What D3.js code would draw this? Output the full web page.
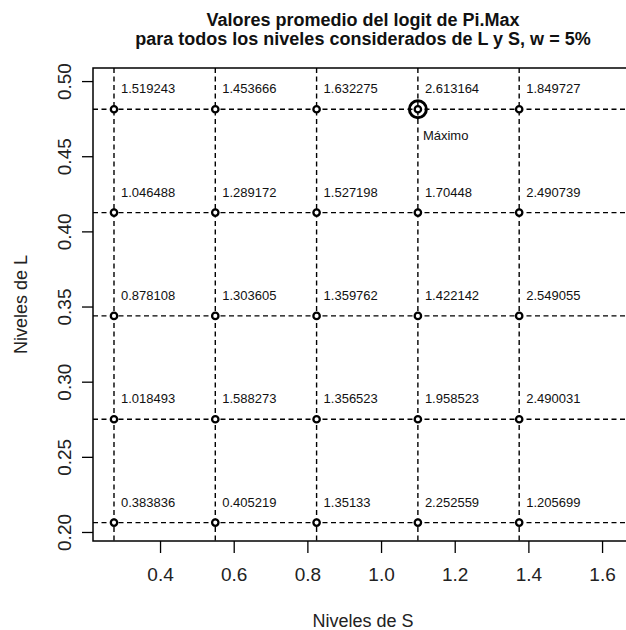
<!DOCTYPE html>
<html>
<head>
<meta charset="utf-8">
<script src="https://cdn.jsdelivr.net/npm/d3@7"></script>
<style>
  html, body { margin: 0; padding: 0; background: #fff; }
  svg { display: block; font-family: "Liberation Sans", Arial, sans-serif; }
</style>
</head>
<body>
<svg id="chart" width="626" height="630"></svg>
<script>
// Levels of S (columns) and L (rows)
const sLevels = [0.275, 0.55, 0.825, 1.1, 1.375];
const lLevels = [0.48125, 0.4125, 0.34375, 0.275, 0.20625];

// Mean logit of Pi.Max per (L, S) pair, one row per L level
const row048 = [1.519243, 1.453666, 1.632275, 2.613164, 1.849727];
const row041 = [1.046488, 1.289172, 1.527198, 1.70448, 2.490739];
const row034 = [0.878108, 1.303605, 1.359762, 1.422142, 2.549055];
const row027 = [1.018493, 1.588273, 1.356523, 1.958523, 2.490031];
const row020 = [0.383836, 0.405219, 1.35133, 2.252559, 1.205699];
const valueRows = [row048, row041, row034, row027, row020];

const xTicks = [0.4, 0.6, 0.8, 1.0, 1.2, 1.4, 1.6];
const yTicks = [0.20, 0.25, 0.30, 0.35, 0.40, 0.45, 0.50];

const titleLines = ["Valores promedio del logit de Pi.Max",
                    "para todos los niveles considerados de L y S, w = 5%"];
const xTitle = "Niveles de S";
const yTitle = "Niveles de L";
const maxLabel = "Máximo";

const svg = d3.select("#chart");
const box = { left: 93, right: 633, top: 68, bottom: 541 };

const x = d3.scaleLinear().domain([0.218, 1.684]).range([box.left, box.right]);
const y = d3.scaleLinear().domain([0.194, 0.5087]).range([box.bottom, box.top]);

// flatten grid into points
const points = [];
lLevels.forEach((l, i) => sLevels.forEach((s, j) => points.push({ s, l, v: valueRows[i][j] })));
const maxPoint = points.reduce((a, b) => (b.v > a.v ? b : a));

const plot = svg.append("g");

// dashed reference lines through each level
const dash = "5,3.5";
plot.selectAll("line.v").data(sLevels).join("line")
  .attr("x1", d => x(d)).attr("x2", d => x(d))
  .attr("y1", box.top).attr("y2", box.bottom)
  .attr("stroke", "#000").attr("stroke-width", 1.4).attr("stroke-dasharray", dash);
plot.selectAll("line.h").data(lLevels).join("line")
  .attr("y1", d => y(d)).attr("y2", d => y(d))
  .attr("x1", box.left).attr("x2", box.right)
  .attr("stroke", "#000").attr("stroke-width", 1.4).attr("stroke-dasharray", dash);

// points
plot.selectAll("circle.pt").data(points).join("circle")
  .attr("cx", d => x(d.s)).attr("cy", d => y(d.l)).attr("r", 3.2)
  .attr("fill", "#fff").attr("stroke", "#000").attr("stroke-width", 2.3);

// value labels
plot.selectAll("text.val").data(points).join("text")
  .attr("x", d => x(d.s) + 7).attr("y", d => y(d.l) - 16)
  .attr("font-size", 13).attr("fill", "#111")
  .text(d => String(d.v));

// highlight the maximum
plot.append("circle")
  .attr("cx", x(maxPoint.s)).attr("cy", y(maxPoint.l)).attr("r", 8.5)
  .attr("fill", "none").attr("stroke", "#000").attr("stroke-width", 3);
plot.append("text")
  .attr("x", x(maxPoint.s) + 5).attr("y", y(maxPoint.l) + 31)
  .attr("font-size", 13).attr("fill", "#111").text(maxLabel);

// frame
svg.append("rect")
  .attr("x", box.left).attr("y", box.top)
  .attr("width", box.right - box.left).attr("height", box.bottom - box.top)
  .attr("fill", "none").attr("stroke", "#000").attr("stroke-width", 1.5);

// axes
const xAxis = d3.axisBottom(x).tickValues(xTicks).tickSize(12).tickPadding(15)
  .tickFormat(d3.format(".1f"));
const gx = svg.append("g").attr("transform", `translate(0,${box.bottom})`).call(xAxis);
gx.select(".domain").remove();
gx.selectAll(".tick line").attr("stroke-width", 1.3);
gx.selectAll(".tick text").attr("font-size", 19).attr("fill", "#222")
  .attr("font-family", "Liberation Sans, Arial, sans-serif");

const yAxis = d3.axisLeft(y).tickValues(yTicks).tickSize(11).tickPadding(0)
  .tickFormat(d3.format(".2f"));
const gy = svg.append("g").attr("transform", `translate(${box.left},0)`).call(yAxis);
gy.select(".domain").remove();
gy.selectAll(".tick line").attr("stroke-width", 1.3);
gy.selectAll(".tick text")
  .attr("font-size", 19).attr("fill", "#222")
  .attr("font-family", "Liberation Sans, Arial, sans-serif")
  .attr("x", null).attr("dy", null)
  .attr("text-anchor", "middle")
  .attr("transform", "translate(-28,0) rotate(-90)")
  .attr("y", 0).attr("dy", "0.32em");

// titles
const cx = (box.left + box.right) / 2;
svg.append("text").attr("x", cx).attr("y", 26).attr("text-anchor", "middle")
  .attr("font-size", 18).attr("font-weight", "bold").attr("fill", "#111").text(titleLines[0]);
svg.append("text").attr("x", cx).attr("y", 45).attr("text-anchor", "middle")
  .attr("font-size", 18).attr("font-weight", "bold").attr("fill", "#111").text(titleLines[1]);

svg.append("text").attr("x", cx).attr("y", 627).attr("text-anchor", "middle")
  .attr("font-size", 18).attr("fill", "#222").text(xTitle);
svg.append("text")
  .attr("transform", `translate(27,${(box.top + box.bottom) / 2}) rotate(-90)`)
  .attr("text-anchor", "middle").attr("font-size", 18).attr("fill", "#222").text(yTitle);
</script>
</body>
</html>
